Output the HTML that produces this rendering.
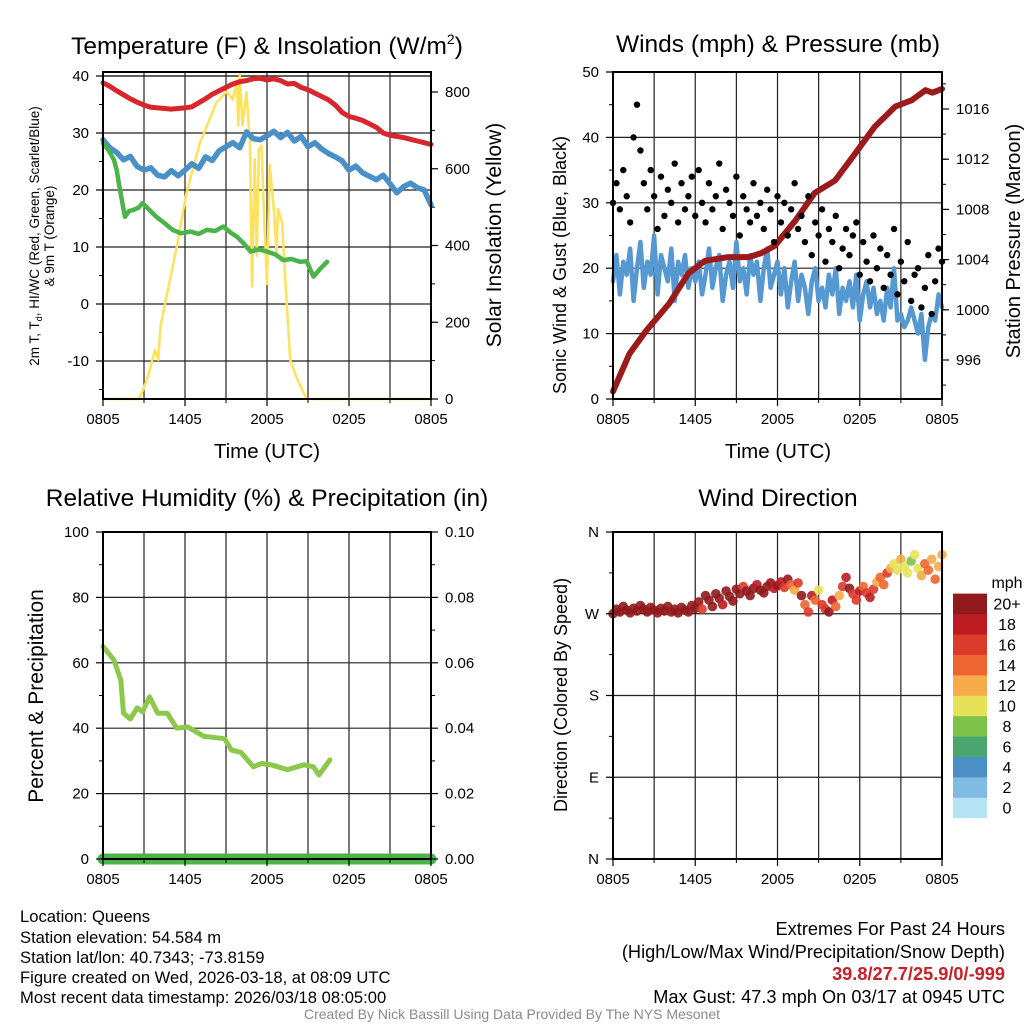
<!DOCTYPE html>
<html><head><meta charset="utf-8"><style>
html,body{margin:0;padding:0;background:#fff;}
svg{display:block;font-family:"Liberation Sans",Arial,sans-serif;}
</style></head><body>
<svg id="fig" width="1024" height="1024" viewBox="0 0 1024 1024">
<g id="grids"></g><g id="series"></g><g id="frames"></g><g id="labels"></g>
<text x="267" y="54" font-size="24.5" text-anchor="middle">Temperature (F) &amp; Insolation (W/m<tspan font-size="14" dy="-10">2</tspan><tspan dy="10">)</tspan></text>
<text x="778" y="52" font-size="24.5" text-anchor="middle">Winds (mph) &amp; Pressure (mb)</text>
<text x="267" y="506" font-size="24.5" text-anchor="middle">Relative Humidity (%) &amp; Precipitation (in)</text>
<text x="778" y="506" font-size="24.5" text-anchor="middle">Wind Direction</text>
<text x="267" y="458" font-size="20.5" text-anchor="middle">Time (UTC)</text>
<text x="778" y="458" font-size="20.5" text-anchor="middle">Time (UTC)</text>
<g transform="translate(39,236) rotate(-90)"><text x="0" y="0" font-size="13.5" text-anchor="middle">2m T, T<tspan font-size="9" dy="3">d</tspan><tspan dy="-3">, HI/WC (Red, Green, Scarlet/Blue)</tspan></text><text x="0" y="15" font-size="13.5" text-anchor="middle">&amp; 9m T (Orange)</text></g>
<text transform="translate(501,235) rotate(-90)" font-size="21" text-anchor="middle">Solar Insolation (Yellow)</text>
<text transform="translate(566,265) rotate(-90)" font-size="18" text-anchor="middle">Sonic Wind &amp; Gust (Blue, Black)</text>
<text transform="translate(1020,241) rotate(-90)" font-size="20" text-anchor="middle">Station Pressure (Maroon)</text>
<text transform="translate(43,696) rotate(-90)" font-size="21" text-anchor="middle">Percent &amp; Precipitation</text>
<text transform="translate(567,695) rotate(-90)" font-size="18" text-anchor="middle">Direction (Colored By Speed)</text>
<text x="1007" y="588" font-size="16" text-anchor="middle">mph</text>
<g font-size="16.6">
<text x="20" y="922">Location: Queens</text>
<text x="20" y="943">Station elevation: 54.584 m</text>
<text x="20" y="963">Station lat/lon: 40.7343; -73.8159</text>
<text x="20" y="983">Figure created on Wed, 2026-03-18, at 08:09 UTC</text>
<text x="20" y="1003">Most recent data timestamp: 2026/03/18 08:05:00</text>
</g>
<g font-size="18.2" text-anchor="end">
<text x="1005" y="935">Extremes For Past 24 Hours</text>
<text x="1005" y="958">(High/Low/Max Wind/Precipitation/Snow Depth)</text>
<text x="1005" y="980" fill="#c8202a" font-weight="bold">39.8/27.7/25.9/0/-999</text>
<text x="1005" y="1003">Max Gust: 47.3 mph On 03/17 at 0945 UTC</text>
</g>
<text x="512" y="1019" font-size="14" fill="#8a8a8a" text-anchor="middle">Created By Nick Bassill Using Data Provided By The NYS Mesonet</text>
</svg>
<script>
// ---------- data ----------
const timeTicks = ["0805","1405","2005","0205","0805"];
const tempTicks = [-10,0,10,20,30,40];
const solarTicks = [0,200,400,600,800];
const windTicks = [0,10,20,30,40,50];
const presTicks = [996,1000,1004,1008,1012,1016];
const rhTicks = [0,20,40,60,80,100];
const precipTicks = ["0.00","0.02","0.04","0.06","0.08","0.10"];
const dirTicks = ["N","E","S","W","N"];
const speedBins = ["0","2","4","6","8","10","12","14","16","18","20+"];
const speedColors = ["#b6e2f6","#7fbbe3","#4a8fc6","#4aa66f","#7dc24b","#e5e258","#f6ab48","#ef6531","#dc3a2a","#bd1c23","#911a1c"];

const tempHours = [0,0.5,1,1.5,2,2.5,3,3.5,4,4.5,5,5.5,6,6.5,7,7.5,8,8.5,9,9.5,10,10.5,11,11.5,12,12.5,13,13.5,14,14.5,15,15.5,16,16.5,17,17.5,18,18.5,19,19.5,20,20.5,21,21.5,22,22.5,23,23.5,24];
const temp2m = [38.8,38.2,37.4,36.7,36,35.4,34.9,34.5,34.4,34.3,34.2,34.3,34.4,34.6,35.3,36,36.8,37.4,38,38.6,39,39.2,39.5,39.6,39.3,39.5,39.2,38.6,38.7,38,37.6,37,36.4,35.8,34.9,33.6,32.9,32.6,32.2,31.6,31,30,29.6,29.4,29.2,28.9,28.6,28.3,28];
const windChill = [28.8,27.4,26.6,25.3,25.9,24.1,23.5,23.9,22.6,22.3,23.4,22.5,23.5,24.6,23.8,25.8,25.2,26.9,27.6,28.3,27.4,30.2,29,28.8,29.5,30.3,29.2,30.1,28.6,29.4,27.6,28.3,27.2,26.4,25.8,25.1,23.5,24.2,23,22.4,21.8,22.6,21.1,19.5,20.6,21.2,20.4,20,17.4];
const dewHours = [0,0.4,0.8,1,1.2,1.4,1.6,1.9,2.2,2.6,2.9,3.4,3.9,4.5,5.1,5.7,6.4,7,7.6,8.2,8.8,9.3,9.8,10.3,10.8,11.4,12,12.6,13.2,13.8,14.4,14.9,15.4,15.9,16.4];
const dewPoint = [28.2,27,25.3,23.5,20.6,18,15.3,16.3,16.5,16.9,17.7,16.5,15.3,14.2,13,12.4,12.7,12.3,13,12.8,13.6,12.6,11.8,10.6,9.2,9.6,9.2,8.7,7.7,7.9,7.4,7.5,4.8,6.2,7.4];
const solarHours = [0,2.6,2.9,3.3,3.8,4.05,4.2,4.7,5.4,6.1,7.1,8.3,9.05,9.5,9.8,9.9,10,10.2,10.5,10.75,10.9,11.1,11.25,11.4,11.6,11.8,12,12.2,12.5,12.7,12.8,13.1,13.4,13.7,14.2,14.9,24];
const solarVals = [0,0,20,60,128,102,188,276,397,536,668,772,801,780,830,713,848,713,800,668,293,625,373,650,660,460,300,610,495,380,495,460,276,102,52,0,0];

const windHours15 = Array.from({length:97},(_,i)=>i*0.25); // 15-minute time base
const sonicWind = [18,22,16,21,19,23,15,20,24,17,21,19,25,16,22,20,18,23,15,21,19,22,17,20,18,
21,16,19,23,17,20,22,15,19,21,17,24,18,20,16,22,19,21,15,20,23,17,19,21,
16,20,14,18,21,15,19,17,13,18,20,15,17,14,19,16,20,13,17,15,18,14,19,12,
16,18,14,17,13,15,12,17,14,20,12,13,11,12,14,12,10,13,6,11,13,12,16,14];
const gusts = [30,33,29,35,31,27,40,45,38,33,29,35,31,26,34,28,32,30,36,27,33,29,31,34,28,
35,30,27,33,29,31,36,26,32,30,28,34,25,31,29,27,33,28,30,26,32,29,24,31,
27,30,25,29,33,26,28,24,31,22,27,25,29,21,26,24,28,20,23,26,22,25,27,19,
24,21,18,25,20,23,17,22,19,26,16,21,18,24,15,19,20,14,17,22,13,18,23,21];
const presHours = [0,1.2,2.4,4.1,5.5,6.7,8.4,9.9,10.8,11.8,13.3,14.7,16.2,17.7,19.1,20.6,21.8,22.8,23.3,24];
const pressure = [993.5,996.5,998.3,1000.5,1002.9,1003.9,1004.2,1004.2,1004.5,1005.1,1007.1,1009.3,1010.3,1012.5,1014.6,1016.2,1016.7,1017.5,1017.3,1017.6];

const rhHours = [0,0.8,1.3,1.5,2,2.5,2.9,3.4,4,4.7,5.4,6.2,7.4,8.9,9.4,10.1,11,11.6,12.3,13.5,14.7,15.4,15.8,16.6];
const rhVals = [65,60.9,54.7,44.6,42.8,46.2,45,49.6,44.6,44.6,40,40.4,37.5,36.8,33.3,32.6,28.2,29.2,28.8,27.3,28.8,28.2,25.7,30.3];

const windDir = [270,275,272,278,274,271,276,273,279,275,272,277,274,271,276,273,278,272,275,271,277,274,272,279,276,
283,275,290,285,278,292,287,280,295,289,284,297,292,300,295,290,298,302,296,293,300,304,298,301,
305,299,308,302,296,304,290,280,272,290,285,296,280,275,272,285,278,290,300,310,298,292,285,295,
300,293,288,297,305,310,302,315,320,325,318,330,322,315,328,335,320,312,325,318,330,308,322,335];
const windSpd = [22,23,21,22,24,22,21,23,22,21,22,24,23,22,21,22,23,22,21,24,22,23,21,22,22,
21,17,22,21,23,21,22,19,21,22,23,21,22,17,21,22,21,19,21,22,20,21,18,21,
19,17,21,15,13,17,20,14,17,19,15,11,16,17,21,19,15,13,17,19,21,16,17,18,
15,17,19,16,13,15,14,17,12,10,11,13,10,11,9,10,11,13,15,14,12,15,13,12];

// ---------- helpers ----------
const NS="http://www.w3.org/2000/svg";
function mk(tag, parent, attrs){const e=document.createElementNS(NS,tag);for(const k in attrs)e.setAttribute(k,attrs[k]);parent.appendChild(e);return e;}
const G=document.getElementById('grids'),S=document.getElementById('series'),F=document.getElementById('frames'),L=document.getElementById('labels');
function xScale(x0,x1){return h=>x0+h/24*(x1-x0);}
function lin(v0,v1,p0,p1){return v=>p0+(v-v0)/(v1-v0)*(p1-p0);}

function panel(name,x0,x1,y0,y1,yl,ylVals,ylLabels,yr,yrVals,yrLabels,minorL,minorR){
  const xs=xScale(x0,x1);
  for(let h=3;h<24;h+=3){const l=mk('line',G,{x1:xs(h),x2:xs(h),y1:y0,y2:y1,stroke:'#222','stroke-width':1.2});
    }
  ylVals.forEach((v,i)=>{const y=yl(v);
    if(y>y0+1&&y<y1-1){const l=mk('line',G,{x1:x0,x2:x1,y1:y,y2:y,stroke:'#222','stroke-width':1.2});
      }
    const tk=mk('line',F,{x1:x0-7,x2:x0,y1:y,y2:y,stroke:'#000','stroke-width':1.2});
    
    const t=mk('text',L,{x:x0-14,y:y+5,'font-size':15,'text-anchor':'end'});t.textContent=ylLabels[i];
    });
  minorL.forEach(v=>{const y=yl(v);const tk=mk('line',F,{x1:x0-4,x2:x0,y1:y,y2:y,stroke:'#000'});
    });
  if(yr){yrVals.forEach((v,i)=>{const y=yr(v);
    const tk=mk('line',F,{x1:x1,x2:x1+7,y1:y,y2:y,stroke:'#000','stroke-width':1.2});
    
    const t=mk('text',L,{x:x1+14,y:y+5,'font-size':15});t.textContent=yrLabels[i];
    });
    minorR.forEach(v=>{const y=yr(v);const tk=mk('line',F,{x1:x1,x2:x1+4,y1:y,y2:y,stroke:'#000'});
      });}
  timeTicks.forEach((lab,i)=>{const x=xs(i*6);
    const tk=mk('line',F,{x1:x,x2:x,y1:y1,y2:y1+7,stroke:'#000','stroke-width':1.2});
    
    const t=mk('text',L,{x:x,y:y1+25,'font-size':15,'text-anchor':'middle'});t.textContent=lab;
    });
  for(let h=0;h<=24;h+=3){if(h%6){const tk=mk('line',F,{x1:xs(h),x2:xs(h),y1:y1,y2:y1+4,stroke:'#000'});
    }}
  const fr=mk('rect',F,{x:x0,y:y0,width:x1-x0,height:y1-y0,fill:'none',stroke:'#000','stroke-width':2});
  
  return xs;
}
function path(xs,ys,hours,vals,color,w,name){
  const d=hours.map((h,i)=>(i?'L':'M')+xs(h).toFixed(1)+','+ys(vals[i]).toFixed(1)).join('');
  const p=mk('path',S,{d:d,fill:'none',stroke:color,'stroke-width':w,'stroke-linejoin':'round','stroke-linecap':'round'});
  return p;
}
function range(a,b,s){const r=[];for(let v=a;v<=b+1e-9;v+=s)r.push(+v.toFixed(3));return r;}

// ---------- panel 1: temperature ----------
{const yT=lin(40,0,76,304), yS=lin(0,800,399,92);
 const xs=panel('temp',103,431,72,399,yT,tempTicks,tempTicks.map(String),yS,solarTicks,solarTicks.map(String),range(-15,35,10),range(100,700,200));
 const l=mk('line',G,{x1:103,x2:431,y1:yT(40),y2:yT(40),stroke:'#222','stroke-width':1.2});
 
 path(xs,yS,solarHours,solarVals,'#fde25a',2.5,'solar-insolation-line');
 path(xs,yT,tempHours,temp2m,'#d7262c',5,'temperature-line');
 path(xs,yT,tempHours,windChill,'#4a90c8',5.5,'wind-chill-line');
 path(xs,yT,dewHours,dewPoint,'#4bb449',4.5,'dew-point-line');}

// ---------- panel 2: winds ----------
{const yW=lin(0,50,399,72), yP=lin(996,1016,360,109);
 const xs=panel('winds',613,942,72,399,yW,windTicks,windTicks.map(String),yP,presTicks,presTicks.map(String),range(5,45,10),range(994,1018,2));
 path(xs,yW,windHours15,sonicWind,'#5598d2',4.5,'sonic-wind-line');
 path(xs,yP,presHours,pressure,'#9b1a1c',6,'pressure-line');
 gusts.forEach((g,i)=>{const c=mk('circle',S,{cx:xs(windHours15[i]),cy:yW(g),r:3.2,fill:'#000'});
   });}

// ---------- panel 3: humidity ----------
{const yR=lin(0,100,859,532);
 const xs=panel('rh',103,431,532,859,yR,rhTicks,rhTicks.map(String),yR,rhTicks,precipTicks,range(10,90,20),range(10,90,10).filter(v=>v%20));
 path(xs,yR,rhHours,rhVals,'#8cc84b',5,'relative-humidity-line');
 path(xs,yR,[0,24],[0,0],'#4bb449',11,'precipitation-line');}

// ---------- panel 4: wind direction ----------
{const yD=lin(0,360,859,532);
 const xs=panel('dir',613,942,532,859,yD,[0,90,180,270,360],dirTicks,null,[],[],range(45,315,90),[]);
 windDir.forEach((d,i)=>{let b=Math.min(10,Math.floor(windSpd[i]/2));
   const c=mk('circle',S,{cx:xs(windHours15[i]),cy:yD(d),r:4.8,fill:speedColors[b],'fill-opacity':0.9});
   });
 speedBins.forEach((lab,i)=>{const y=818-(i+1)*20.4;
   const r=mk('rect',S,{x:953,y:y,width:34,height:20.6,fill:speedColors[i]});
   
   const t=mk('text',L,{x:1007,y:y+16,'font-size':16,'text-anchor':'middle'});t.textContent=lab;
   });}
</script>
</body></html>
